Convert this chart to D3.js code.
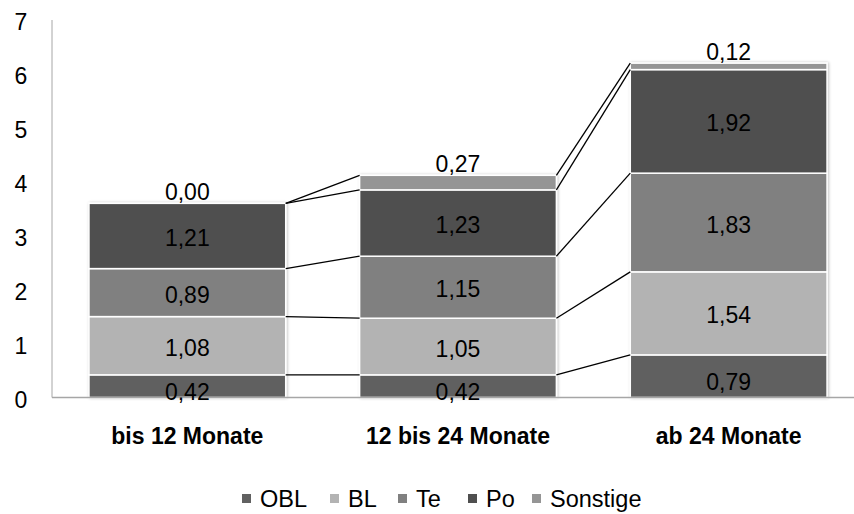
<!DOCTYPE html>
<html><head><meta charset="utf-8">
<script src="https://cdn.jsdelivr.net/npm/d3@7"></script>
<style>body{margin:0;background:#fff;} svg{display:block;font-family:"Liberation Sans",Arial,sans-serif;}</style>
</head><body>
<svg id="c" width="854" height="514"></svg>
<script>
const categories = ["bis 12 Monate", "12 bis 24 Monate", "ab 24 Monate"];
const seriesNames = ["OBL", "BL", "Te", "Po", "Sonstige"];
const OBL = [0.42, 0.42, 0.79];
const BL = [1.08, 1.05, 1.54];
const Te = [0.89, 1.15, 1.83];
const Po = [1.21, 1.23, 1.92];
const Sonstige = [0.00, 0.27, 0.12];
const yTicks = [0, 1, 2, 3, 4, 5, 6, 7];
const colors = ["#616161", "#b3b3b3", "#808080", "#4f4f4f", "#959595"];

const seriesVals = [OBL, BL, Te, Po, Sonstige];
const rows = categories.map((c, i) => {
  const r = {cat: c};
  seriesNames.forEach((s, k) => r[s] = seriesVals[k][i]);
  return r;
});
const stack = d3.stack().keys(seriesNames)(rows);

const svg = d3.select("#c");
const x = d3.scaleBand().domain(categories).range([52, 864]).paddingInner(0.273).paddingOuter(0.1365);
const y = d3.scaleLinear().domain([0, 7]).range([397.5, 20]);

const defs = svg.append("defs");
const f = defs.append("filter").attr("id", "sh").attr("x", "-5%").attr("y", "-5%").attr("width", "110%").attr("height", "110%");
f.append("feGaussianBlur").attr("in", "SourceAlpha").attr("stdDeviation", 1.5).attr("result", "b");
f.append("feOffset").attr("in", "b").attr("dx", 1).attr("dy", 0).attr("result", "o");
f.append("feComponentTransfer").attr("in", "o").attr("result", "o2").append("feFuncA").attr("type", "linear").attr("slope", 0.25);
const m = f.append("feMerge"); m.append("feMergeNode").attr("in", "o2"); m.append("feMergeNode").attr("in", "SourceGraphic");

// y axis
svg.append("line").attr("x1", 52).attr("x2", 52).attr("y1", y(7)).attr("y2", y(0)).attr("stroke", "#a6a6a6").attr("stroke-width", 1);
svg.append("g").selectAll("text").data(yTicks).join("text")
  .attr("x", 21).attr("y", d => y(d) + 2).attr("text-anchor", "middle").attr("dominant-baseline", "central")
  .attr("font-size", 23).attr("fill", "#000").text(d => d);

// bars
const bw = x.bandwidth();
const gBars = svg.append("g").attr("filter", "url(#sh)");
stack.forEach((layer, k) => {
  gBars.selectAll(null).data(layer).join("rect")
    .attr("x", d => x(d.data.cat)).attr("width", bw)
    .attr("y", d => y(d[1])).attr("height", d => Math.max(0, y(d[0]) - y(d[1])))
    .attr("fill", colors[k]).attr("stroke", "#fff").attr("stroke-width", 1.5);
});

// connector lines
const gL = svg.append("g");
stack.forEach(layer => {
  for (let i = 0; i < categories.length - 1; i++) {
    const a = layer[i], b = layer[i + 1];
    gL.append("line")
      .attr("x1", x(a.data.cat) + bw).attr("y1", y(a[1]))
      .attr("x2", x(b.data.cat)).attr("y2", y(b[1]))
      .attr("stroke", "#000").attr("stroke-width", 1.3);
  }
});

// x axis baseline
svg.append("line").attr("x1", 52).attr("x2", 864).attr("y1", y(0)).attr("y2", y(0)).attr("stroke", "#a6a6a6").attr("stroke-width", 1.5);

// labels
const fmt = v => d3.format(".2f")(v).replace(".", ",");
const gT = svg.append("g");
stack.forEach((layer, k) => {
  gT.selectAll(null).data(layer).join("text")
    .attr("x", d => x(d.data.cat) + bw / 2)
    .attr("y", d => {
      if (k === seriesNames.length - 1) return y(d[1]) - 11;
      const c = (y(d[0]) + y(d[1])) / 2 + 2;
      return k === 0 ? c + 4 : c;
    })
    .attr("text-anchor", "middle").attr("dominant-baseline", "central")
    .attr("font-size", 23).attr("fill", "#000")
    .text(d => fmt(d[1] - d[0]));
});

// category labels
svg.append("g").selectAll("text").data(categories).join("text")
  .attr("x", d => x(d) + bw / 2).attr("y", 436).attr("text-anchor", "middle").attr("dominant-baseline", "central")
  .attr("font-size", 23).attr("font-weight", "bold").attr("fill", "#000").text(d => d);

// legend
const legX = [242, 330, 398, 468, 532];
const lg = svg.append("g");
seriesNames.forEach((s, k) => {
  lg.append("rect").attr("x", legX[k]).attr("y", 494).attr("width", 9).attr("height", 9).attr("fill", colors[k]);
  lg.append("text").attr("x", legX[k] + 18).attr("y", 499).attr("dominant-baseline", "central")
    .attr("font-size", 23.5).attr("fill", "#000").text(s);
});
</script>
</body></html>
